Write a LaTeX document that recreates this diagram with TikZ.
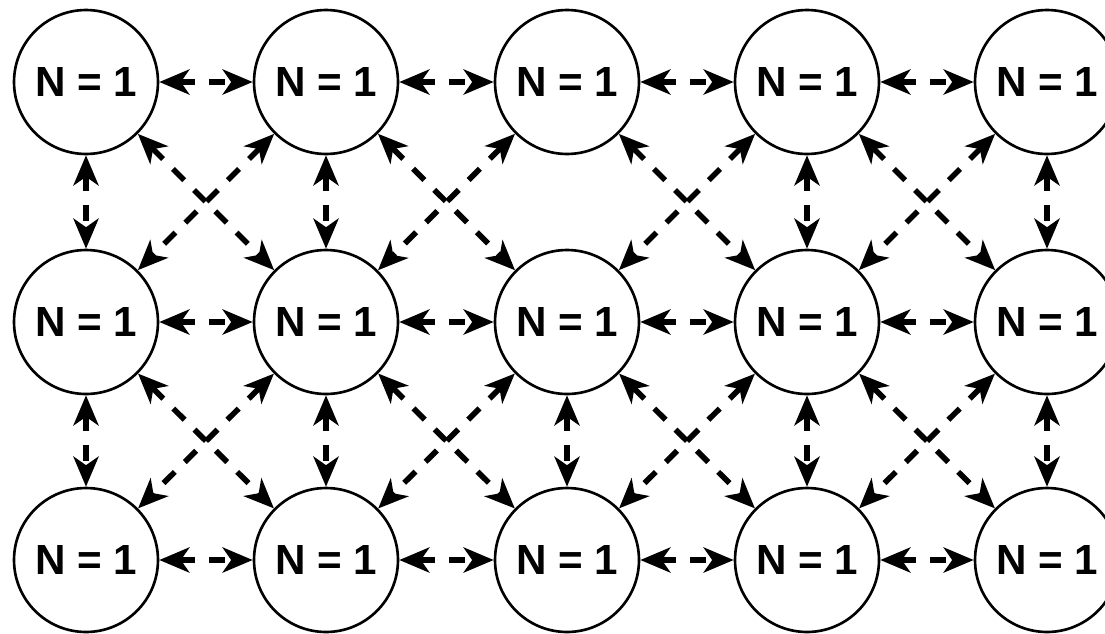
\documentclass[tikz,border=0pt]{standalone}
\usepackage{fontspec}
\setmainfont{Liberation Sans}
\usetikzlibrary{arrows.meta}

\begin{document}
\begin{tikzpicture}[x=0.02cm,y=-0.02cm,
  cell/.style={circle,draw,line width=1.5pt,minimum size=2.88cm,inner sep=0pt,
    font=\bfseries\fontsize{24}{28}\selectfont},
  link/.style={{Stealth[length=0.6cm,width=0.5cm,inset=0.17cm]}-{Stealth[length=0.6cm,width=0.5cm,inset=0.17cm]},
    line width=3.2pt,dash pattern=on 0.32cm off 0.28cm}]
  \useasboundingbox (0,0) rectangle (1105,633);
  \clip (0,0) rectangle (1105,633);
  % the grid of cells
  \foreach \c/\x in {1/86,2/326,3/567,4/807,5/1047}
    \foreach \r/\y in {1/82,2/322,3/560}
      \node[cell] (n\c\r) at (\x,\y) {N = 1};
  % neighbours in a row
  \foreach \r in {1,2,3}
    \foreach \a/\b in {1/2,2/3,3/4,4/5}
      \draw[link] (n\a\r) -- (n\b\r);
  % neighbours in a column (none between the top two of column 3)
  \foreach \c/\r/\s in {1/1/2,2/1/2,4/1/2,5/1/2,1/2/3,2/2/3,3/2/3,4/2/3,5/2/3}
    \draw[link] (n\c\r) -- (n\c\s);
  % crossing diagonals
  \foreach \a/\b in {1/2,2/3,3/4,4/5}
    \foreach \r/\s in {1/2,2/3} {
      \draw[link] (n\a\r) -- (n\b\s);
      \draw[link] (n\b\r) -- (n\a\s);
    }
\end{tikzpicture}
\end{document}
